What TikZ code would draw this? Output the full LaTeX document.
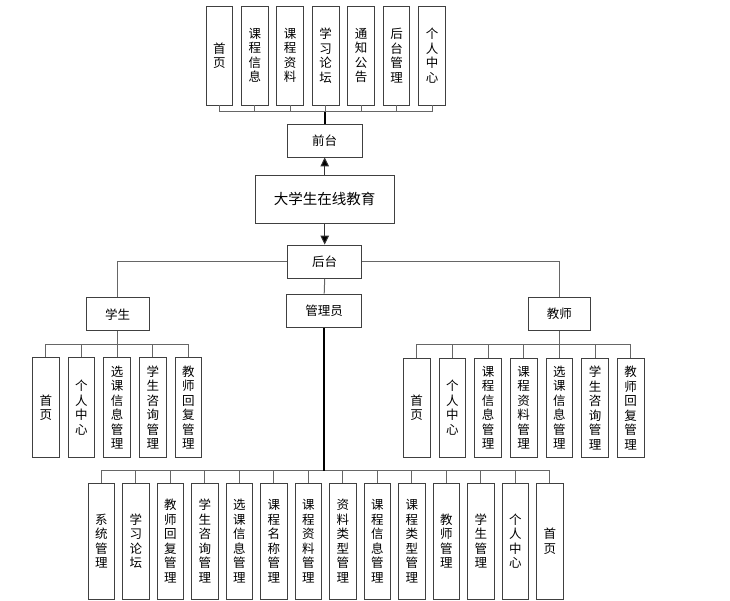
\documentclass[tikz,border=0pt]{standalone}
\usepackage{fontspec}
\setmainfont{Noto Sans CJK SC}
\usetikzlibrary{arrows.meta}
\begin{document}
\begin{tikzpicture}[x=1pt,y=1pt,
  box/.style={draw=black!75, line width=0.9pt, fill=white, inner sep=0pt,
    font=\fontsize{12.5}{14.5}\selectfont, align=center},
  vbox/.style={box, minimum width=26.6pt},
  conn/.style={draw=black!60, line width=1pt},
  thickconn/.style={draw=black, line width=2pt},
  arr/.style={draw=black!80, line width=1pt, -{Triangle[length=9pt,width=8.5pt,fill=black]}}]
\useasboundingbox (0,0) rectangle (730,-601);
% top
\node[box, minimum width=74.7pt, minimum height=33pt] (qt) at (324.7,-140.5) {前台};
\node[box, minimum width=138.7pt, minimum height=48pt, font=\fontsize{14.5}{16}\selectfont] (dx) at (324.7,-199.3) {大学生在线教育};
\node[box, minimum width=74pt, minimum height=33.3pt] (ht) at (324.7,-261.7) {后台};
\node[box, minimum width=74.6pt, minimum height=33.3pt] (gl) at (324.2,-310.7) {管理员};
\node[box, minimum width=62.7pt, minimum height=33pt] (xs) at (117.7,-314.2) {学生};
\node[box, minimum width=62.7pt, minimum height=33pt] (js) at (559.3,-314.2) {教师};
\draw[arr] (dx.north) -- (qt.south);
\draw[arr] (dx.south) -- (ht.north);
\draw[conn] (ht.west) -| (xs.north);
\draw[conn] (ht.east) -| (js.north);
\draw[conn] (ht.south) -- (gl.north);
% front children
\coordinate (tbus) at (0,-112);
\foreach \t [count=\i from 0] in {{首\\页},{课\\程\\信\\息},{课\\程\\资\\料},{学\\习\\论\\坛},{通\\知\\公\\告},{后\\台\\管\\理},{个\\人\\中\\心}}{
  \node[vbox, minimum height=99pt] (t\i) at (219.3+35.45*\i,-55.5) {\t};
  \draw[conn] (t\i.south) -- (t\i.south |- tbus);
}
\draw[conn] (t0.south |- tbus) -- (t6.south |- tbus);
\draw[thickconn] (qt.north) -- (qt.north |- tbus);
% student children
\coordinate (sbus) at (0,-344.3);
\foreach \t [count=\i from 0] in {{首\\页},{个\\人\\中\\心},{选\\课\\信\\息\\管\\理},{学\\生\\咨\\询\\管\\理},{教\\师\\回\\复\\管\\理}}{
  \node[vbox, minimum height=99.6pt] (s\i) at (45.8+35.65*\i,-407.5) {\t};
  \draw[conn] (s\i.north) -- (s\i.north |- sbus);
}
\draw[conn] (s0.north |- sbus) -- (s4.north |- sbus);
\draw[conn] (xs.south) -- (xs.south |- sbus);
% teacher children
\coordinate (jbus) at (0,-344);
\foreach \t [count=\i from 0] in {{首\\页},{个\\人\\中\\心},{课\\程\\信\\息\\管\\理},{课\\程\\资\\料\\管\\理},{选\\课\\信\\息\\管\\理},{学\\生\\咨\\询\\管\\理},{教\\师\\回\\复\\管\\理}}{
  \node[vbox, minimum height=99pt] (j\i) at (416.7+35.67*\i,-407.8) {\t};
  \draw[conn] (j\i.north) -- (j\i.north |- jbus);
}
\draw[conn] (j0.north |- jbus) -- (j6.north |- jbus);
\draw[conn] (js.south) -- (js.south |- jbus);
% admin children
\coordinate (gbus) at (0,-470.7);
\foreach \t [count=\i from 0] in {{系\\统\\管\\理},{学\\习\\论\\坛},{教\\师\\回\\复\\管\\理},{学\\生\\咨\\询\\管\\理},{选\\课\\信\\息\\管\\理},{课\\程\\名\\称\\管\\理},{课\\程\\资\\料\\管\\理},{资\\料\\类\\型\\管\\理},{课\\程\\信\\息\\管\\理},{课\\程\\类\\型\\管\\理},{教\\师\\管\\理},{学\\生\\管\\理},{个\\人\\中\\心},{首\\页}}{
  \node[vbox, minimum height=115.7pt] (g\i) at (101.3+34.5*\i,-541.2) {\t};
  \draw[conn] (g\i.north) -- (g\i.north |- gbus);
}
\draw[conn] (g0.north |- gbus) -- (g13.north |- gbus);
\draw[thickconn] (gl.south) -- (gl.south |- gbus);
\end{tikzpicture}
\end{document}
